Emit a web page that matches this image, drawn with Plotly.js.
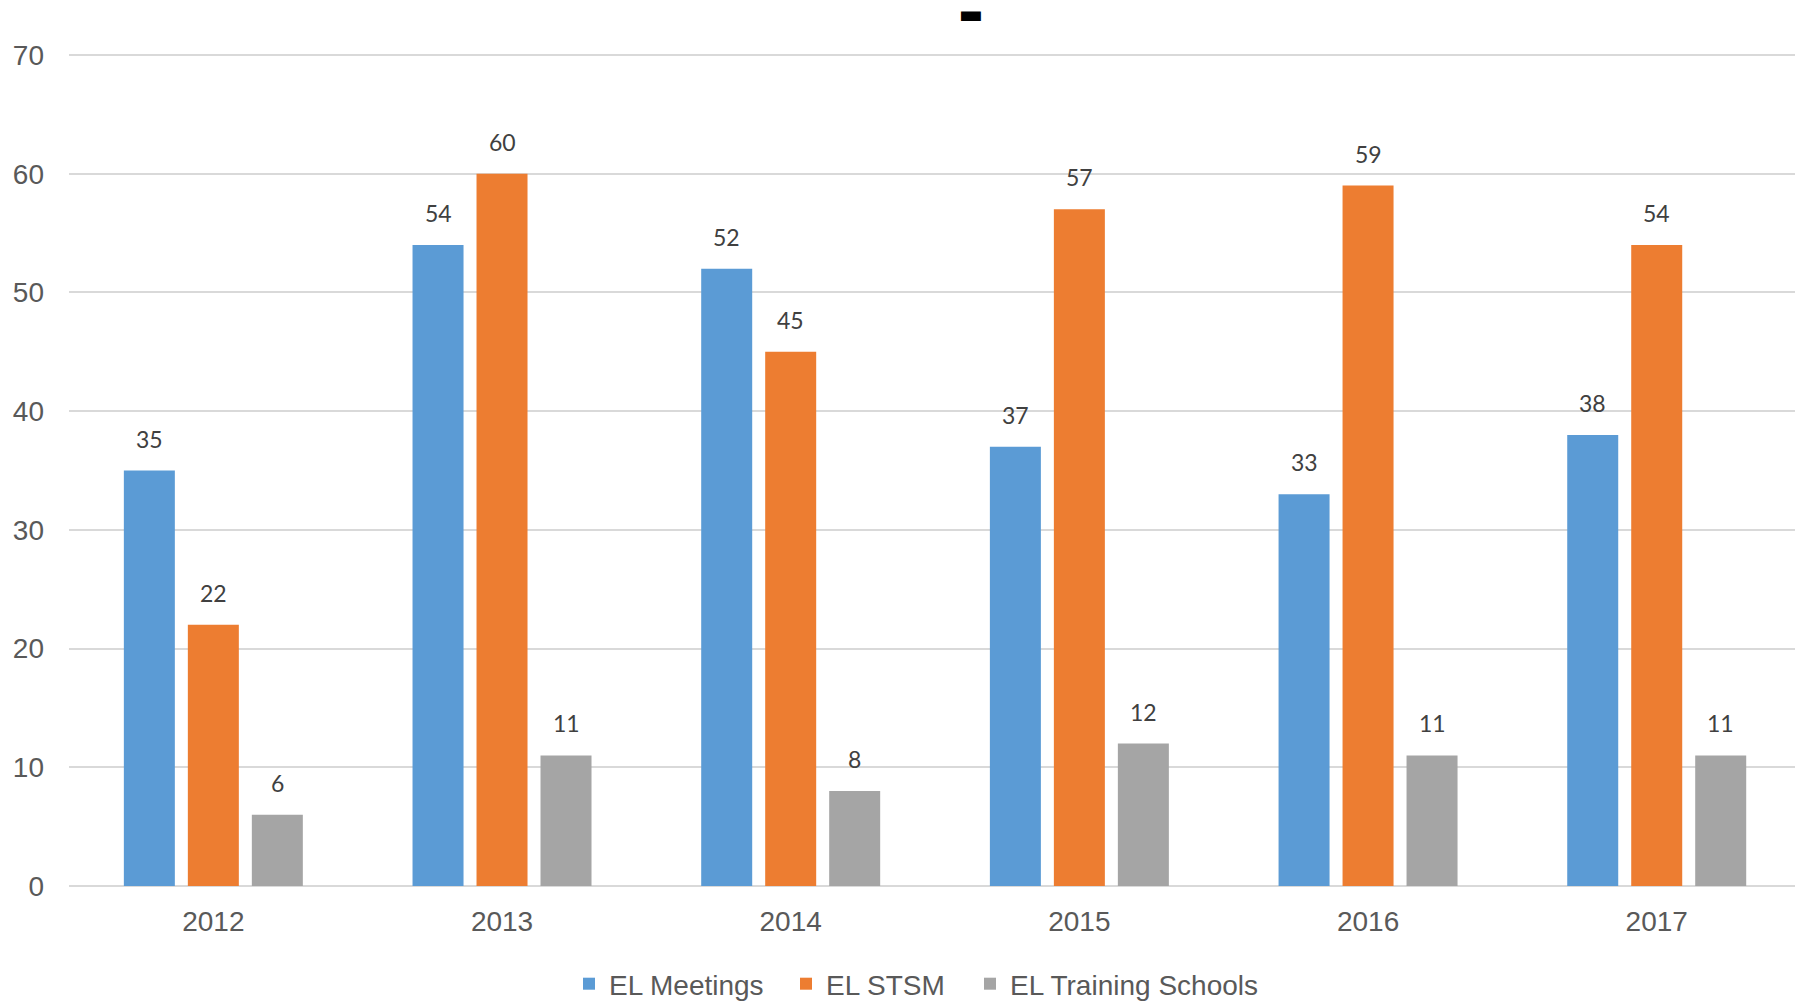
<!DOCTYPE html>
<html>
<head>
<meta charset="utf-8">
<script src="https://cdn.plot.ly/plotly-3.0.1.min.js"></script>
<style>html,body{margin:0;padding:0;background:#fff;}#chart{width:1795px;height:1001px;}</style>
</head>
<body>
<div id="chart"></div>
<script>
const years = ["2012", "2013", "2014", "2015", "2016", "2017"];
const seriesNames = ["EL Meetings", "EL STSM", "EL Training Schools"];
const meetings = [35, 54, 52, 37, 33, 38];
const stsm = [22, 60, 45, 57, 59, 54];
const trainingSchools = [6, 11, 8, 12, 11, 11];
const seriesColors = ["#5b9bd5", "#ed7d31", "#a5a5a5"];
const yTicks = [0, 10, 20, 30, 40, 50, 60, 70];

const allSeries = [meetings, stsm, trainingSchools];
const BARGAP = 0.335, BARGROUPGAP = 0.203;
const legendIds = ["legend", "legend2", "legend3"];
const legendLeft = [569, 786, 970];

const traces = allSeries.map((vals, k) => ({
  type: "bar",
  name: seriesNames[k],
  x: years,
  y: vals,
  marker: {color: seriesColors[k]},
  legend: legendIds[k],
  hoverinfo: "x+y+name"
}));

const slot = (1 - BARGAP) / allSeries.length;
const annotations = [];
allSeries.forEach((vals, k) => {
  vals.forEach((v, i) => {
    annotations.push({
      xref: "x", yref: "y",
      x: i + (k - (allSeries.length - 1) / 2) * slot,
      y: v,
      text: String(v),
      showarrow: false,
      yanchor: "bottom",
      yshift: 16,
      font: {family: "Lato, 'Open Sans', sans-serif", size: 23, color: "#404040"}
    });
  });
});

const layout = {
  width: 1795, height: 1001,
  paper_bgcolor: "#ffffff", plot_bgcolor: "#ffffff",
  margin: {l: 69, r: 0, t: 51, b: 115},
  title: {
    text: "▬",
    font: {family: "DejaVu Sans, sans-serif", size: 26, color: "#000000", weight: "bold"},
    xref: "container", x: 971 / 1795, xanchor: "center",
    yref: "container", y: 1 - 4.5 / 1001, yanchor: "top"
  },
  barmode: "group",
  bargap: BARGAP,
  bargroupgap: BARGROUPGAP,
  xaxis: {
    type: "category",
    range: [-0.5, 5.479],
    showgrid: false,
    zeroline: false,
    showline: false,
    ticks: "",
    ticklabelstandoff: 16,
    tickfont: {family: "Liberation Sans, Arial, sans-serif", size: 28, color: "#595959"}
  },
  yaxis: {
    range: [0, 70.337],
    tickvals: yTicks,
    ticktext: yTicks.map(String),
    showgrid: true,
    gridcolor: "#d9d9d9",
    gridwidth: 2,
    zeroline: true,
    zerolinecolor: "#d9d9d9",
    zerolinewidth: 2,
    showline: false,
    ticks: "",
    ticklabelstandoff: 24,
    tickfont: {family: "Liberation Sans, Arial, sans-serif", size: 28, color: "#595959"}
  },
  showlegend: true,
  annotations: annotations
};

legendIds.forEach((id, k) => {
  layout[id] = {
    orientation: "h",
    xref: "container", x: legendLeft[k] / 1795, xanchor: "left",
    yref: "container", y: 1 - 984 / 1001, yanchor: "middle",
    font: {family: "Liberation Sans, Arial, sans-serif", size: 28, color: "#595959"},
    bgcolor: "rgba(0,0,0,0)"
  };
});

Plotly.newPlot("chart", traces, layout, {displayModeBar: false, responsive: false});
</script>
</body>
</html>
